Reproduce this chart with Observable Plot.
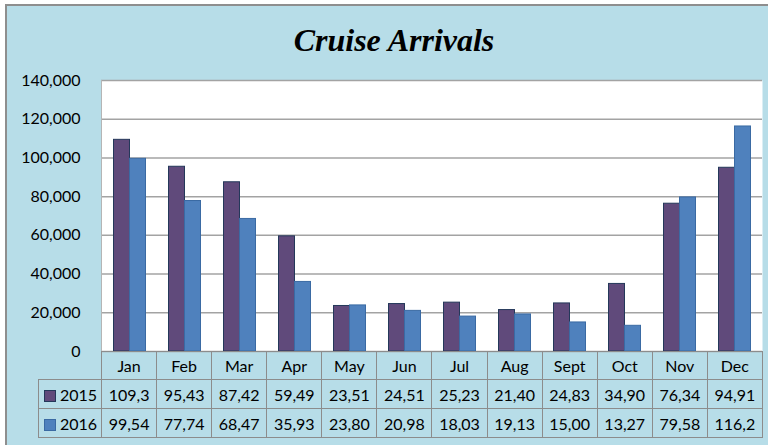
<!DOCTYPE html>
<html><head><meta charset="utf-8">
<script src="https://cdn.jsdelivr.net/npm/d3@7"></script>
<script src="https://cdn.jsdelivr.net/npm/@observablehq/plot@0.6"></script>
<style>
body{margin:0;background:#fff;}
#wrap{position:relative;width:768px;height:445px;overflow:hidden;background:#fff;font-family:Lato,"Open Sans",sans-serif;}
#panel{position:absolute;left:5px;top:4px;width:800px;height:500px;background:#b7dde8;border-left:2px solid #8e8e8e;border-top:2px solid #8e8e8e;}
#title{position:absolute;left:394px;top:24px;transform:translateX(-50%);font:bold italic 32px/32px "Liberation Serif","Times New Roman",serif;white-space:nowrap;color:#000;}
#chart{position:absolute;left:0;top:70px;}
#tbl{position:absolute;left:38px;top:351px;border-collapse:collapse;table-layout:fixed;width:724px;font-size:16px;color:#000;}
#tbl td{border:1.5px solid #8c8c8c;text-align:center;padding:0;white-space:nowrap;overflow:hidden;}
#tbl tr.hd td{height:27px;}
#tbl tr.rw td{height:28px;}
#tbl td.blank{border:none;}
#tbl td.lg{text-align:left;padding-left:5px;}
.sw{display:inline-block;width:10px;height:10px;margin-right:4px;vertical-align:-1px;}
</style></head>
<body><div id="wrap"><div id="panel"></div><div id="title">Cruise Arrivals</div><div id="chart"></div><table id="tbl"></table></div>
<script>
const months = ["Jan","Feb","Mar","Apr","May","Jun","Jul","Aug","Sept","Oct","Nov","Dec"];
const series = ["2015","2016"];
const arrivals2015 = [109350,95435,87425,59495,23515,24515,25235,21405,24835,34905,76345,94915];
const arrivals2016 = [99545,77745,68475,35935,23805,20985,18035,19135,15005,13275,79585,116250];
const yTicks = [0,20000,40000,60000,80000,100000,120000,140000];
const colors = {"2015":"#604a7b","2016":"#4f81bd"};
const strokes = {"2015":"#24385a","2016":"#3a6aa3"};

const chart = Plot.plot({
  width: 768,
  height: 293,
  marginTop: 10,
  marginBottom: 12,
  marginLeft: 101,
  marginRight: 6,
  style: {fontFamily: "Lato, 'Open Sans', sans-serif", fontSize: "16px", color: "#000", background: "transparent", overflow: "visible"},
  x: {type: "band", domain: months, padding: 0, axis: null},
  y: {domain: [0, 140000], axis: null},
  marks: [
    Plot.frame({fill: "white", stroke: null}),
    Plot.ruleY(yTicks, {stroke: "#a3a3a3", strokeWidth: 1.5}),
    Plot.frame({anchor: "left", stroke: "#b5b5b5"}),
    Plot.barY(months, {x: months, y: arrivals2015, fill: colors["2015"], stroke: strokes["2015"], strokeWidth: 1, insetLeft: 11.5, insetRight: 27.5}),
    Plot.barY(months, {x: months, y: arrivals2016, fill: colors["2016"], stroke: strokes["2016"], strokeWidth: 1, insetLeft: 27.5, insetRight: 11.5}),
    Plot.axisY(yTicks, {tickSize: 0, tickPadding: 21, tickFormat: d3.format(","), fill: "#000"})
  ]
});
document.getElementById("chart").appendChild(chart);

// data table
const fmt = v => d3.format(",")(v).slice(0, 5);
const tbl = d3.select("#tbl");
const cg = tbl.append("colgroup");
cg.append("col").style("width", "63px");
months.forEach(() => cg.append("col").style("width", (661/12) + "px"));
const hd = tbl.append("tr").attr("class", "hd");
hd.append("td").attr("class", "blank");
months.forEach(m => hd.append("td").text(m));
[[series[0], arrivals2015], [series[1], arrivals2016]].forEach(([s, vals]) => {
  const tr = tbl.append("tr").attr("class", "rw");
  const lg = tr.append("td").attr("class", "lg");
  lg.append("span").attr("class", "sw").style("background", colors[s]).style("border", "1px solid " + strokes[s]);
  lg.append("span").text(s);
  vals.forEach(v => tr.append("td").text(fmt(v)));
});
</script>
</body></html>
